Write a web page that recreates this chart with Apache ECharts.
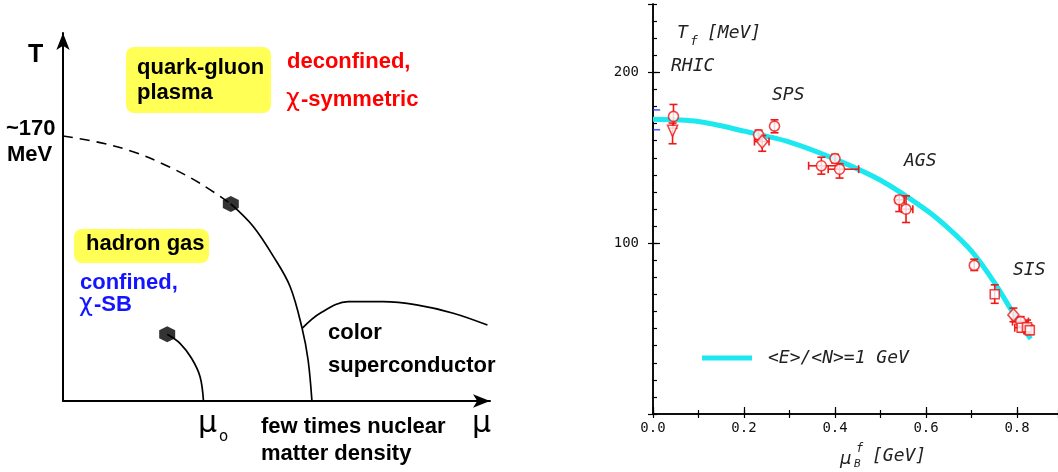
<!DOCTYPE html>
<html><head><meta charset="utf-8">
<script src="https://cdn.jsdelivr.net/npm/echarts@6/dist/echarts.min.js"></script>
<style>html,body{margin:0;padding:0;background:#fff}#c{width:1058px;height:472px}</style>
</head><body><div id="c"></div><script>
// ---- Left panel: schematic QCD phase diagram (mu in arbitrary units, T in MeV) ----
const pdDashedMu = [0, 0.87, 1.64, 2.43, 3.21, 3.93];
const pdDashedT  = [170, 165.7, 159.9, 150.9, 139.6, 126.4];
const pdFirstOrderMu = [3.93, 4.46, 4.93, 5.32, 5.60, 5.74, 5.83];
const pdFirstOrderT  = [126.4, 111.8, 92.6, 73.3, 46.6, 26.3, 0];
const pdNuclearMu = [2.44, 2.74, 3.01, 3.21, 3.29];
const pdNuclearT  = [42.8, 37.0, 27.4, 15.6, 0];
const pdCscMu = [5.60, 6.02, 6.68, 7.50, 8.28, 9.14, 9.94];
const pdCscT  = [46.6, 56.3, 63.7, 63.7, 61.6, 56.3, 48.7];
const pdCriticalMu = [3.93, 2.44];
const pdCriticalT  = [126.4, 42.8];

// ---- Right panel: chemical freeze-out points ----
const curveName = '<E>/<N>=1 GeV';
const curveMu = [0, 0.10, 0.20, 0.30, 0.40, 0.50, 0.60, 0.65, 0.70, 0.75, 0.80, 0.83];
const curveT  = [172.5, 171.2, 165.6, 159.2, 149.2, 136.8, 119.5, 108.5, 95.3, 77.0, 55.5, 44.0];
// [muB, T, Tlow, Thigh, muLow, muHigh]
const circles = [
  [0.045, 174.2, 167.3, 181.2, 0.045, 0.045],
  [0.232, 163.4, 160.5, 166.2, 0.232, 0.232],
  [0.267, 168.5, 164.6, 172.2, 0.267, 0.267],
  [0.370, 145.3, 140.4, 150.3, 0.342, 0.405],
  [0.400, 149.5, 147.0, 152.0, 0.400, 0.400],
  [0.410, 143.3, 138.1, 146.5, 0.385, 0.452],
  [0.541, 125.4, 118.5, 127.7, 0.533, 0.552],
  [0.556, 119.9, 112.1, 127.7, 0.546, 0.571],
  [0.706, 87.0, 84.0, 90.6, 0.706, 0.706],
  [0.808, 54.1, 51.0, 57.0, 0.790, 0.825]
];
const trianglesDown = [
  [0.043, 165.8, 158.2, 170.3, 0.043, 0.043]
];
const diamonds = [
  [0.240, 159.5, 153.8, 163.0, 0.223, 0.255],
  [0.792, 58.0, 54.0, 62.0, 0.792, 0.792]
];
const squares = [
  [0.751, 70.1, 64.8, 75.6, 0.751, 0.751],
  [0.810, 50.5, 48.0, 53.0, 0.795, 0.823],
  [0.822, 50.8, 47.0, 55.0, 0.822, 0.822],
  [0.828, 49.0, 46.5, 52.0, 0.828, 0.828]
];
const latticeT = [178.0, 166.4];
const xTickInterval = 0.2, xMinorInterval = 0.1;
const yTickInterval = 100, yMinorInterval = 10;

const RED = '#f01818';
const CYAN = '#1ce8ef';
const zip = (a, b) => a.map((v, i) => [v, b[i]]);

function errBars(params, api) {
  const x = api.value(0), y = api.value(1), tlo = api.value(2), thi = api.value(3), mlo = api.value(4), mhi = api.value(5);
  const st = {stroke: RED, lineWidth: 1.6, fill: null};
  const ch = [], cap = 4;
  if (thi > tlo) {
    const a = api.coord([x, tlo]), b = api.coord([x, thi]);
    ch.push({type: 'line', shape: {x1: a[0], y1: a[1], x2: b[0], y2: b[1]}, style: st});
    ch.push({type: 'line', shape: {x1: a[0] - cap, y1: a[1], x2: a[0] + cap, y2: a[1]}, style: st});
    ch.push({type: 'line', shape: {x1: b[0] - cap, y1: b[1], x2: b[0] + cap, y2: b[1]}, style: st});
  }
  if (mhi > mlo) {
    const a = api.coord([mlo, y]), b = api.coord([mhi, y]);
    ch.push({type: 'line', shape: {x1: a[0], y1: a[1], x2: b[0], y2: b[1]}, style: st});
    ch.push({type: 'line', shape: {x1: a[0], y1: a[1] - cap, x2: a[0], y2: a[1] + cap}, style: st});
    ch.push({type: 'line', shape: {x1: b[0], y1: b[1] - cap, x2: b[0], y2: b[1] + cap}, style: st});
  }
  return {type: 'group', children: ch};
}

const BOLD = 'bold 22px "Liberation Sans", Arial, sans-serif';
const MONO = 'italic 18px "DejaVu Sans Mono", monospace';
function txt(text, x, y, font, fill) {
  return {type: 'text', x: x, y: y, z: 50, style: {text: text, font: font, fill: fill || '#000', textAlign: 'left', textVerticalAlign: 'middle', align: 'left', verticalAlign: 'middle'}};
}
function tickAxis(pos, max, interval, len, lineShow) {
  return {type: 'value', gridIndex: 0, min: 0, max: max, interval: interval, position: pos,
    axisLine: {show: lineShow, lineStyle: {color: '#000', width: 1.5}},
    axisTick: {show: true, inside: true, length: len, lineStyle: {color: '#000', width: 1.2}},
    axisLabel: {show: false}, splitLine: {show: false}};
}

const hexagon = 'path://M0,-1L0.866,-0.5L0.866,0.5L0,1L-0.866,0.5L-0.866,-0.5Z';
const lineBase = {xAxisIndex: 2, yAxisIndex: 2, showSymbol: false, symbol: 'none', clip: false, silent: true, smooth: 0.35};

const option = {
  animation: false,
  backgroundColor: '#fff',
  grid: [
    {left: 653, top: 4, width: 406, height: 410},
    {left: 63, top: 33, width: 427, height: 368}
  ],
  xAxis: [
    {type: 'value', gridIndex: 0, min: 0, max: 0.89, interval: xTickInterval, position: 'bottom',
     axisLine: {show: true, lineStyle: {color: '#000', width: 1.5}},
     axisTick: {show: true, inside: true, length: 7, lineStyle: {color: '#000', width: 1.2}},
     axisLabel: {show: true, margin: 7, showMaxLabel: false, color: '#111', fontFamily: 'DejaVu Sans Mono', fontSize: 14, formatter: v => v.toFixed(1)},
     splitLine: {show: false}},
    tickAxis('top', 0.89, xMinorInterval, 4, true),
    {type: 'value', gridIndex: 1, min: 0, max: 10,
     axisLine: {show: true, symbol: ['none', 'arrow'], symbolSize: [10, 17], symbolOffset: [0, 0], lineStyle: {color: '#000', width: 2}},
     axisTick: {show: false}, axisLabel: {show: false}, splitLine: {show: false}},
    tickAxis('bottom', 0.89, xMinorInterval, 4, false)
  ],
  yAxis: [
    {type: 'value', gridIndex: 0, min: 0, max: 240, interval: yTickInterval, position: 'left',
     axisLine: {show: true, lineStyle: {color: '#000', width: 1.5}},
     axisTick: {show: true, inside: true, length: 7, lineStyle: {color: '#000', width: 1.2}},
     axisLabel: {show: true, margin: 14, showMinLabel: false, showMaxLabel: false, color: '#111', fontFamily: 'DejaVu Sans Mono', fontSize: 14},
     splitLine: {show: false}},
    tickAxis('right', 240, yTickInterval, 5, true),
    {type: 'value', gridIndex: 1, min: 0, max: 236,
     axisLine: {show: true, symbol: ['none', 'arrow'], symbolSize: [10, 17], symbolOffset: [0, 0], lineStyle: {color: '#000', width: 2}},
     axisTick: {show: false}, axisLabel: {show: false}, splitLine: {show: false}},
    tickAxis('left', 240, yMinorInterval, 4, false)
  ],
  legend: {
    left: 697, top: 344, itemWidth: 50, itemHeight: 5, itemGap: 0,
    data: [{name: curveName, icon: 'rect'}],
    textStyle: {fontFamily: 'DejaVu Sans Mono', fontStyle: 'italic', fontSize: 18, color: '#222', padding: [0, 0, 0, 11]}
  },
  series: [
    // left schematic
    Object.assign({type: 'line', data: zip(pdDashedMu, pdDashedT), lineStyle: {color: '#000', width: 1.6, type: [10, 7]}}, lineBase),
    Object.assign({type: 'line', data: zip(pdFirstOrderMu, pdFirstOrderT), lineStyle: {color: '#000', width: 1.7}}, lineBase),
    Object.assign({type: 'line', data: zip(pdNuclearMu, pdNuclearT), lineStyle: {color: '#000', width: 1.7}}, lineBase),
    Object.assign({type: 'line', data: zip(pdCscMu, pdCscT), lineStyle: {color: '#000', width: 1.7}}, lineBase),
    {type: 'scatter', xAxisIndex: 2, yAxisIndex: 2, data: zip(pdCriticalMu, pdCriticalT), symbol: hexagon, symbolSize: 16, itemStyle: {color: '#000'}, z: 5, silent: true},
    // right panel
    {type: 'line', name: curveName, xAxisIndex: 0, yAxisIndex: 0, data: zip(curveMu, curveT), smooth: 0.3, showSymbol: false, symbol: 'none',
     lineStyle: {color: CYAN, width: 5}, itemStyle: {color: CYAN}, z: 2, silent: true},
    {type: 'scatter', xAxisIndex: 0, yAxisIndex: 0, data: latticeT.map(t => [0.008, t]), symbol: 'rect', symbolSize: [7, 1.6], itemStyle: {color: '#2233ff'}, z: 3, silent: true},
    {type: 'custom', xAxisIndex: 0, yAxisIndex: 0, renderItem: errBars, encode: {x: 0, y: 1},
     data: circles.concat(trianglesDown, diamonds, squares), z: 4, silent: true},
    {type: 'scatter', xAxisIndex: 0, yAxisIndex: 0, data: circles.map(p => [p[0], p[1]]), symbol: 'circle', symbolSize: 10,
     itemStyle: {color: '#fff', borderColor: RED, borderWidth: 1.6}, z: 5, silent: true},
    {type: 'scatter', xAxisIndex: 0, yAxisIndex: 0, data: trianglesDown.map(p => [p[0], p[1]]), symbol: 'triangle', symbolRotate: 180, symbolSize: [10, 11],
     itemStyle: {color: '#fff', borderColor: RED, borderWidth: 1.6}, z: 5, silent: true},
    {type: 'scatter', xAxisIndex: 0, yAxisIndex: 0, data: diamonds.map(p => [p[0], p[1]]), symbol: 'diamond', symbolSize: [11, 13],
     itemStyle: {color: '#fff', borderColor: RED, borderWidth: 1.6}, z: 5, silent: true},
    {type: 'scatter', xAxisIndex: 0, yAxisIndex: 0, data: squares.map(p => [p[0], p[1]]), symbol: 'rect', symbolSize: 9,
     itemStyle: {color: '#fff', borderColor: RED, borderWidth: 1.6}, z: 5, silent: true}
  ],
  graphic: [
    {type: 'rect', shape: {x: 126, y: 47, width: 145, height: 66, r: 8}, style: {fill: '#ffff55'}, z: 40},
    {type: 'rect', shape: {x: 74, y: 229, width: 135, height: 34, r: 8}, style: {fill: '#ffff55'}, z: 40},
    txt('T', 28, 55, 'bold 25px "Liberation Sans", Arial, sans-serif'),
    txt('~170', 6, 129, BOLD),
    txt('MeV', 7, 155, BOLD),
    txt('quark-gluon', 137, 67.5, BOLD),
    txt('plasma', 137, 93, BOLD),
    txt('deconfined,', 287, 61.5, BOLD, '#ff0000'),
    txt('\u03c7', 286, 100, '24px "DejaVu Sans", sans-serif', '#ff0000'),
    txt('-symmetric', 301, 99.7, BOLD, '#ff0000'),
    txt('hadron gas', 86, 244, BOLD),
    txt('confined,', 80, 282.5, BOLD, '#1414ff'),
    txt('\u03c7', 79, 305, '24px "DejaVu Sans", sans-serif', '#1414ff'),
    txt('-SB', 94, 304.7, BOLD, '#1414ff'),
    txt('color', 328, 332.5, BOLD),
    txt('superconductor', 328, 365.7, BOLD),
    txt('\u03bc', 198, 424.6, '30px "DejaVu Sans", sans-serif'),
    txt('o', 219, 437, '15px "DejaVu Sans", sans-serif'),
    txt('few times nuclear', 261, 427.4, BOLD),
    txt('matter density', 261, 454, BOLD),
    txt('\u03bc', 472, 424.6, '30px "DejaVu Sans", sans-serif'),
    // right panel texts
    txt('T', 677, 33, MONO, '#222'),
    txt('f', 690, 42, 'italic 13px "DejaVu Sans Mono", monospace', '#222'),
    txt('[MeV]', 707, 33, MONO, '#222'),
    txt('RHIC', 671, 66.7, MONO, '#222'),
    txt('SPS', 772, 95, MONO, '#222'),
    txt('AGS', 904, 161, MONO, '#222'),
    txt('SIS', 1013, 270, MONO, '#222'),
    txt('\u03bc', 840, 459, 'italic 18px "DejaVu Sans", sans-serif', '#222'),
    txt('f', 856, 449, 'italic 12px "DejaVu Sans Mono", monospace', '#222'),
    txt('B', 854, 464, 'italic 11px "DejaVu Sans Mono", monospace', '#222'),
    txt('[GeV]', 872, 456, MONO, '#222')
  ]
};
const chart = echarts.init(document.getElementById('c'), null, {renderer: 'canvas'});
chart.setOption(option);
</script></body></html>
